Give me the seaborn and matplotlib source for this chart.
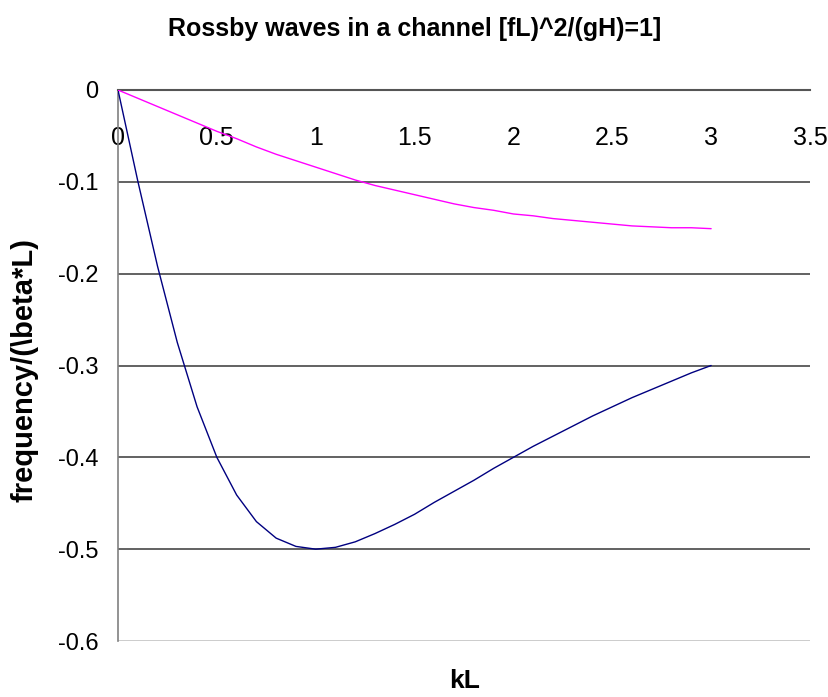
import matplotlib
matplotlib.use("Agg")
import matplotlib.pyplot as plt
import seaborn as sns
import pandas as pd

# ---- data ----
kL = [0.0, 0.1, 0.2, 0.3, 0.4, 0.5, 0.6, 0.7, 0.8, 0.9, 1.0,
      1.1, 1.2, 1.3, 1.4, 1.5, 1.6, 1.7, 1.8, 1.9, 2.0,
      2.1, 2.2, 2.3, 2.4, 2.5, 2.6, 2.7, 2.8, 2.9, 3.0]
mode1 = [0.0, -0.099, -0.192, -0.275, -0.345, -0.400, -0.441, -0.470, -0.488, -0.497, -0.500,
         -0.498, -0.492, -0.483, -0.473, -0.462, -0.449, -0.437, -0.425, -0.412, -0.400,
         -0.388, -0.377, -0.366, -0.355, -0.345, -0.335, -0.326, -0.317, -0.308, -0.300]
mode2 = [0.0, -0.009, -0.018, -0.027, -0.036, -0.045, -0.053, -0.062, -0.070, -0.077, -0.084,
         -0.091, -0.098, -0.104, -0.109, -0.114, -0.119, -0.124, -0.128, -0.131, -0.135,
         -0.137, -0.140, -0.142, -0.144, -0.146, -0.148, -0.149, -0.150, -0.150, -0.151]
x_ticks = [0, 0.5, 1, 1.5, 2, 2.5, 3, 3.5]
x_ticklabels = ["0", "0.5", "1", "1.5", "2", "2.5", "3", "3.5"]
y_ticks = [0, -0.1, -0.2, -0.3, -0.4, -0.5, -0.6]
y_ticklabels = ["0", "-0.1", "-0.2", "-0.3", "-0.4", "-0.5", "-0.6"]
title = "Rossby waves in a channel [fL)^2/(gH)=1]"
xlabel = "kL"
ylabel = "frequency/(\\beta*L)"

sns.set_style("white")
plt.rcParams["font.family"] = ["Liberation Sans", "DejaVu Sans"]
plt.rcParams["text.color"] = "black"

df = pd.DataFrame({"kL": kL + kL,
                   "freq": mode1 + mode2,
                   "mode": ["m1"] * len(kL) + ["m2"] * len(kL)})

W, H = 829, 697
fig = plt.figure(figsize=(W / 100, H / 100), dpi=100)
ax = fig.add_axes([118 / W, 1 - 641 / H, 692 / W, 551 / H])

sns.lineplot(data=df, x="kL", y="freq", hue="mode",
             palette={"m1": "#000080", "m2": "#FF00FF"},
             linewidth=1.0, legend=False, ax=ax, zorder=3)

ax.set_xlim(0, 3.5)
ax.set_ylim(-0.6, 0)
ax.set_xticks(x_ticks)
ax.set_xticklabels(x_ticklabels)
ax.set_yticks(y_ticks)
ax.set_yticklabels(y_ticklabels)

# x axis line at y = 0 (top), labels below it
ax.spines["bottom"].set_position(("data", 0))
ax.spines["bottom"].set_color("#555555")
ax.spines["bottom"].set_linewidth(1.5)
ax.spines["top"].set_visible(False)
ax.spines["right"].set_visible(False)
ax.spines["left"].set_color("#808080")
ax.spines["left"].set_linewidth(1.2)

ax.tick_params(axis="x", direction="out", length=8, width=1.0, color="#555555",
               pad=18, labelsize=18, labelcolor="black")
ax.tick_params(axis="y", direction="out", length=6, width=1.0, color="#555555",
               pad=8, labelsize=17, labelcolor="black")

ax.yaxis.grid(True, color="#555555", linewidth=1.3)
ax.xaxis.grid(False)
for val, gl in zip(y_ticks, ax.get_ygridlines()):
    if val == -0.6:
        gl.set_color("#c8c8c8")
    if val == 0:
        gl.set_visible(False)

ax.set_xlabel("")
ax.set_ylabel("")

fig.text(0.5, 1 - 29 / H, title, ha="center", va="center",
         fontsize=18, fontweight="bold", color="black")
fig.text(465 / W, 1 - 681 / H, xlabel, ha="center", va="center",
         fontsize=19, fontweight="bold", color="black")
fig.text(25 / W, 1 - 370 / H, ylabel, ha="center", va="center", rotation=90,
         fontsize=21, fontweight="bold", color="black")

fig.savefig("out.png", dpi=100)
